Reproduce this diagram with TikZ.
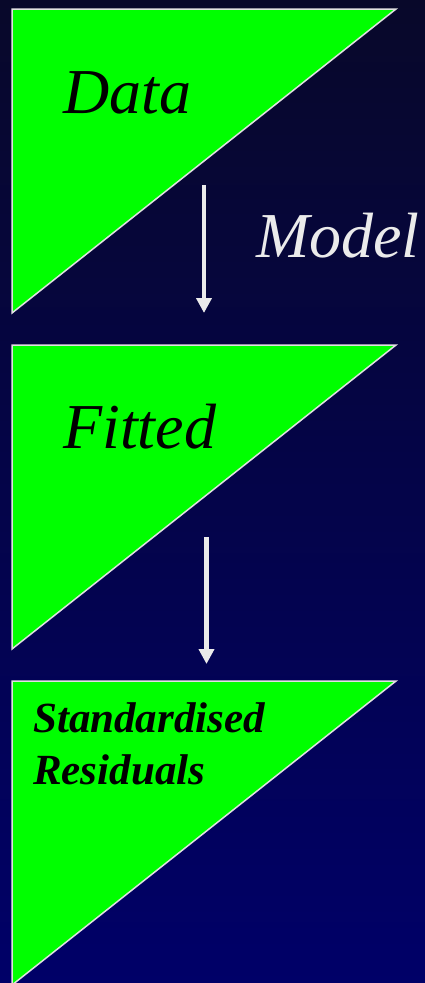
\documentclass[tikz,border=0pt]{standalone}
\usepackage{fontspec}
\setmainfont{Liberation Serif}
\usetikzlibrary{arrows.meta}
\definecolor{bgtop}{RGB}{8,8,42}
\definecolor{bgbot}{RGB}{0,0,104}
\definecolor{tri}{RGB}{0,255,0}
\definecolor{edge}{RGB}{225,225,225}
\definecolor{arr}{RGB}{235,235,235}
\tikzset{
  tribox/.style={fill=tri, draw=edge, line width=1.5pt, line join=miter},
  flowarrow/.style={draw=arr, line width=4.5pt, -{Triangle[width=15pt,length=15pt]}, shorten <=0pt},
  bigit/.style={anchor=base west, inner sep=0pt, font=\fontsize{64}{70}\selectfont\itshape},
  smallbi/.style={anchor=base west, inner sep=0pt, align=left, font=\fontsize{43}{52}\selectfont\bfseries\itshape}
}
\begin{document}
\begin{tikzpicture}[x=1pt,y=-1pt]
\useasboundingbox (0,0) rectangle (425,983);
\clip (0,0) rectangle (425,983);
\shade[top color=bgtop, bottom color=bgbot] (0,0) rectangle (425,983);
% triangles
\draw[tribox] (12,9) -- (396,9) -- (12,313) -- cycle;
\draw[tribox] (12,345) -- (396,345) -- (12,649) -- cycle;
\draw[tribox] (12,681) -- (396,681) -- (12,985) -- cycle;
% texts
\node[bigit] (data) at (63,113) {Data};
\node[bigit, text=arr] (model) at (256,257) {Model};
\node[bigit] (fitted) at (63,448) {Fitted};
\node[smallbi] (std) at (33,732) {Standardised};
\node[smallbi] (res) at (33,784) {Residuals};
% arrows
\coordinate (a1s) at (204,185);
\coordinate (a1e) at (204,313);
\coordinate (a2s) at (206.5,537);
\coordinate (a2e) at (206.5,664);
\draw[flowarrow] (a1s) -- (a1e);
\draw[flowarrow] (a2s) -- (a2e);
\end{tikzpicture}
\end{document}
